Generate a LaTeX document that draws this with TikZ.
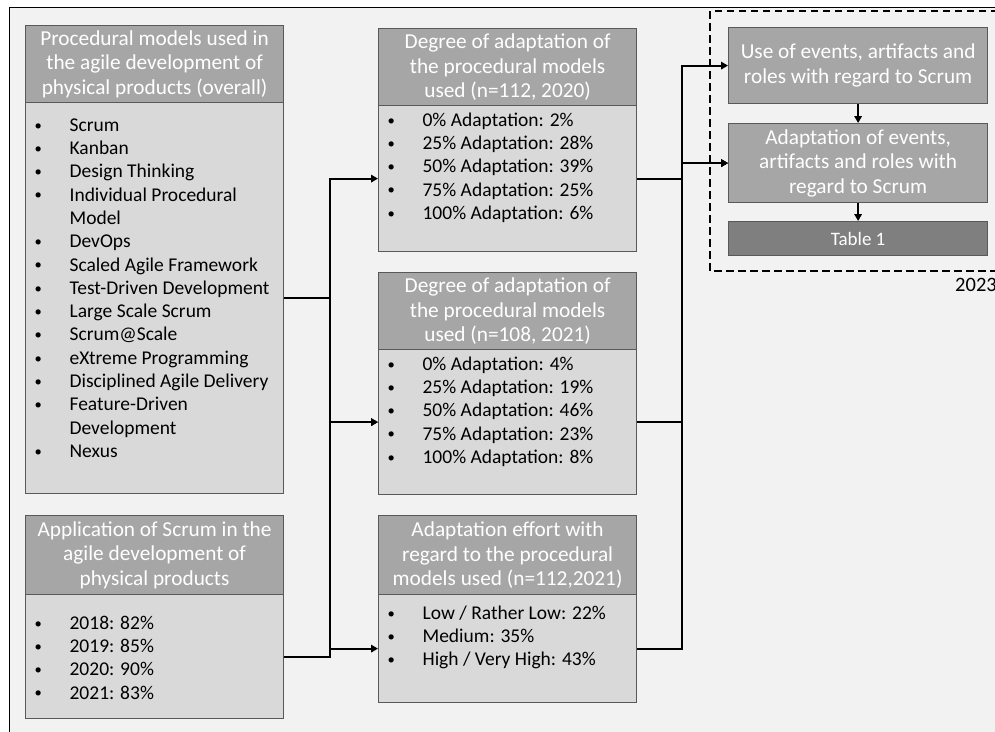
\documentclass[tikz,border=0pt]{standalone}
\usepackage{fontspec}
\setmainfont{Carlito}
\usetikzlibrary{arrows.meta}
\definecolor{frameBg}{HTML}{F2F2F2}
\definecolor{hdr}{HTML}{A6A6A6}
\definecolor{bod}{HTML}{D9D9D9}
\definecolor{brd}{HTML}{595959}
\definecolor{tbl}{HTML}{7F7F7F}
\newcommand{\bul}{\raisebox{1.2pt}{\scalebox{0.75}{\textbullet}}}
\newcommand{\blist}[1]{\begin{tabular}{@{}p{35pt}@{}l@{}}#1\end{tabular}}
\begin{document}
\begin{tikzpicture}[x=1pt,y=-1pt,
  box/.style={draw=brd, line width=1.2pt, rectangle, inner sep=0pt, anchor=north west},
  hdrbox/.style={box, fill=hdr, text=white, align=center, font=\fontsize{21.3}{24.5}\selectfont},
  bodbox/.style={box, fill=bod},
  ltext/.style={anchor=north west, inner sep=0pt, text=black, font=\fontsize{19.5}{23.3}\selectfont},
  conn/.style={line width=2pt, black},
  arr/.style={conn, -{Triangle[length=7pt,width=7.5pt]}},
]
\useasboundingbox (0,0) rectangle (995,731);
\clip (0,0) rectangle (995,731);
\fill[white] (0,0) rectangle (995,731);
\filldraw[fill=frameBg, draw=black, line width=1pt] (9,7) rectangle (1010,745);

% dashed group
\draw[black, line width=1.4pt, dash pattern=on 7.5pt off 4.5pt] (1010,11) -- (710,11) -- (710,271) -- (1010,271);
\node[anchor=west, inner sep=0pt, font=\fontsize{20.5}{24}\selectfont] (yr) at (955,285) {2023};

% left column
\node[hdrbox, minimum width=258pt, minimum height=77pt] (Ah) at (25,25) {Procedural models used in\\the agile development of\\physical products (overall)};
\node[bodbox, minimum width=258pt, minimum height=391pt] (Ab) at (25,102) {};
\node[ltext] (Al) at (34.4,114.7) {\blist{%
\bul & Scrum\\
\bul & Kanban\\
\bul & Design Thinking\\
\bul & Individual Procedural\\
     & Model\\
\bul & DevOps\\
\bul & Scaled Agile Framework\\
\bul & Test-Driven Development\\
\bul & Large Scale Scrum\\
\bul & Scrum@Scale\\
\bul & eXtreme Programming\\
\bul & Disciplined Agile Delivery\\
\bul & Feature-Driven\\
     & Development\\
\bul & Nexus}};

\node[hdrbox, minimum width=258pt, minimum height=79pt] (Bh) at (25,515) {Application of Scrum in the\\agile development of\\physical products};
\node[bodbox, minimum width=258pt, minimum height=124pt] (Bb) at (25,594) {};
\node[ltext] (Bl) at (34.4,612.7) {\blist{%
\bul & 2018: 82\%\\
\bul & 2019: 85\%\\
\bul & 2020: 90\%\\
\bul & 2021: 83\%}};

% middle column
\node[hdrbox, minimum width=258pt, minimum height=77pt] (C1h) at (378,28) {Degree of adaptation of\\the procedural models\\used (n=112, 2020)};
\node[bodbox, minimum width=258pt, minimum height=146pt] (C1b) at (378,105) {};
\node[ltext] (C1l) at (387.4,109.7) {\blist{%
\bul & 0\% Adaptation: 2\%\\
\bul & 25\% Adaptation: 28\%\\
\bul & 50\% Adaptation: 39\%\\
\bul & 75\% Adaptation: 25\%\\
\bul & 100\% Adaptation: 6\%}};

\node[hdrbox, minimum width=258pt, minimum height=77pt] (C2h) at (378,272) {Degree of adaptation of\\the procedural models\\used (n=108, 2021)};
\node[bodbox, minimum width=258pt, minimum height=145pt] (C2b) at (378,349) {};
\node[ltext] (C2l) at (387.4,353.7) {\blist{%
\bul & 0\% Adaptation: 4\%\\
\bul & 25\% Adaptation: 19\%\\
\bul & 50\% Adaptation: 46\%\\
\bul & 75\% Adaptation: 23\%\\
\bul & 100\% Adaptation: 8\%}};

\node[hdrbox, minimum width=258pt, minimum height=79pt] (C3h) at (378,515) {Adaptation effort with\\regard to the procedural\\models used (n=112,2021)};
\node[bodbox, minimum width=258pt, minimum height=108pt] (C3b) at (378,594) {};
\node[ltext] (C3l) at (387.4,602.7) {\blist{%
\bul & Low / Rather Low: 22\%\\
\bul & Medium: 35\%\\
\bul & High / Very High: 43\%}};

% right column
\node[hdrbox, minimum width=259pt, minimum height=76pt] (D1) at (728,27) {Use of events, artifacts and\\roles with regard to Scrum};
\node[hdrbox, minimum width=259pt, minimum height=79pt] (D2) at (728,123) {Adaptation of events,\\artifacts and roles with\\regard to Scrum};
\node[hdrbox, fill=tbl, minimum width=259pt, minimum height=34pt, font=\fontsize{19}{22}\selectfont] (D3) at (728,221) {Table 1};

% connectors
\coordinate (tL) at (330,0);
\coordinate (tR) at (682,0);
\draw[arr] (Ab.east) -- (Ab.east -| tL) |- (C1b.west);
\draw[arr] (Ab.east) -- (Ab.east -| tL) |- (C2b.west);
\draw[arr] (Bb.east) -- (Bb.east -| tL) |- (C2b.west);
\draw[arr] (Bb.east) -- (Bb.east -| tL) |- (C3b.west);
\draw[arr] (C1b.east) -- (C1b.east -| tR) |- (D1.west);
\draw[arr] (C1b.east) -- (C1b.east -| tR) |- (D2.west);
\draw[arr] (C2b.east) -- (C2b.east -| tR) |- (D2.west);
\draw[arr] (C3b.east) -- (C3b.east -| tR) |- (D2.west);
\draw[arr] (D1.south) -- (D2.north);
\draw[arr] (D2.south) -- (D3.north);
\end{tikzpicture}
\end{document}
